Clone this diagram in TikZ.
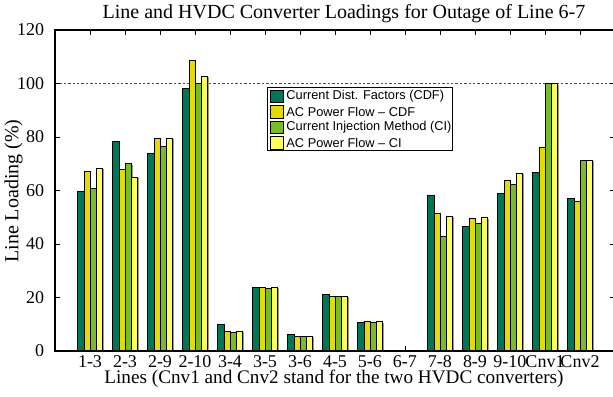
\documentclass[tikz,border=0pt]{standalone}
\usepackage{fontspec}
\setmainfont{Liberation Serif}
\newfontfamily\legendfont{Liberation Sans}
\usetikzlibrary{positioning}

\definecolor{cdfgreen}{RGB}{0,118,88}
\definecolor{cdfyellow}{RGB}{228,220,0}
\definecolor{cigreen}{RGB}{120,188,40}
\definecolor{ciyellow}{RGB}{255,255,90}

\tikzset{
  bar/.style={draw=black, line width=0.3pt},
  barshadow/.style={fill=black!40, draw=none},
  legkey/.style={draw=black, line width=0.4pt, minimum width=6.6pt,
    minimum height=6.3pt, inner sep=0pt},
  legtext/.style={font=\legendfont\fontsize{6.4}{7.5}\selectfont, inner sep=0pt},
  ticklabel/.style={font=\fontsize{9}{11}\selectfont, inner sep=0pt},
  axislabel/.style={font=\fontsize{10}{12}\selectfont, inner sep=0pt},
}

\begin{document}
\begin{tikzpicture}[x=17.5pt, y=1.3375pt]
  \useasboundingbox (-1.5714,-17.196) rectangle (15.943,131.215);
  \newcommand{\bw}{0.177}

  % 100 % limit
  \draw[red, line width=0.4pt, dash pattern=on 1.2pt off 1pt] (0,100) -- (16,100);

  % bars, four per line
  \foreach \i/\a/\b/\c/\d in {1/59.8/67.0/61.0/68.4, 2/78.3/67.8/70.0/64.9,
    3/73.9/79.6/76.5/79.6, 4/98.2/108.7/100.0/102.7, 5/10.1/7.5/7.0/7.5,
    6/23.8/23.8/23.3/23.8, 7/6.1/5.6/5.6/5.6, 8/21.3/20.6/20.3/20.6,
    9/10.6/11.0/10.7/11.0, 11/58.3/51.3/43.0/50.4, 12/46.6/49.6/47.9/49.8,
    13/59.1/64.0/62.5/66.5, 14/66.7/76.3/100/100, 15/56.9/55.8/71.3/71.3}
  {
    \foreach \k/\v/\col in {0/\a/cdfgreen, 1/\b/cdfyellow, 2/\c/cigreen,
      3/\d/ciyellow}
    {
      \pgfmathsetmacro{\xl}{\i - 2*\bw + \k*\bw}
      \fill[barshadow] (\xl+\bw,0) rectangle (\xl+\bw+0.04,\v-0.4);
      \filldraw[bar, fill=\col] (\xl,0) rectangle (\xl+\bw,\v);
    }
  }

  % frame and ticks
  \draw[line width=0.6pt] (0,0) rectangle (16,120);
  \foreach \i/\lab in {1/1-3, 2/2-3, 3/2-9, 4/2-10, 5/3-4, 6/3-5, 7/3-6, 8/4-5,
    9/5-6, 10/6-7, 11/7-8, 12/8-9, 13/9-10, 14/Cnv1, 15/Cnv2}
  {
    \draw[thin] (\i,0) -- (\i,1.87);
    \draw[thin] (\i,120) -- (\i,118.13);
    \node[ticklabel] (xlab\i) at (\i,-3.8) {\lab};
  }
  \foreach \v in {20,40,...,100}
  {
    \draw[thin] (0,\v) -- (0.143,\v);
    \draw[thin] (16,\v) -- (15.857,\v);
  }
  \foreach \v in {0,20,...,120}
    \node[ticklabel, anchor=east] (ylab\v) at (-0.30,\v) {\v};

  % titles
  \node[axislabel] (title) at (8.257,126.0)
    {Line and HVDC Converter Loadings for Outage of Line 6-7};
  \node[axislabel, font=\fontsize{9.6}{11.5}\selectfont] (xtitle) at (7.971,-10.5)
    {Lines (Cnv1 and Cnv2 stand for the two HVDC converters)};
  \node[axislabel, rotate=90] (ytitle) at (-1.186,59.8) {Line Loading (\%)};

  % legend
  \draw[line width=0.6pt, fill=white] (6.077,74.88) rectangle (11.351,98.43);
  \foreach \col/\txt [count=\j] in {cdfgreen/Current Dist. Factors (CDF),
    cdfyellow/AC Power Flow – CDF, cigreen/Current Injection Method (CI),
    ciyellow/AC Power Flow – CI}
  {
    \node[legkey, fill=\col] (key\j) at (6.333,{95.14-5.76*(\j-1)}) {};
    \node[legtext, right=1.2pt of key\j] (txt\j) {\txt};
  }
\end{tikzpicture}
\end{document}
